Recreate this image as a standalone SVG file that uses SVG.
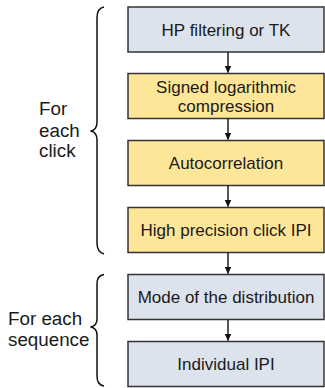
<svg xmlns="http://www.w3.org/2000/svg" width="325" height="388" viewBox="0 0 325 388">
<style>
.blue{fill:#dce3ec;stroke:#333;stroke-width:1.5}
.yel{fill:#fee699;stroke:#333;stroke-width:1.5}
.t{font-family:"Liberation Sans",Arial,sans-serif;font-size:17px;fill:#1a1a1a;text-anchor:middle}
.lab{font-family:"Liberation Sans",Arial,sans-serif;font-size:18.8px;fill:#1a1a1a}
.brace{fill:none;stroke:#111;stroke-width:1.5}
.conn{stroke:#111;stroke-width:1.4;fill:none}
</style>
<defs>
<marker id="ah" markerWidth="8" markerHeight="8" refX="7" refY="4" orient="auto" markerUnits="userSpaceOnUse">
<path d="M0,0.5 L7.5,4 L0,7.5 Z" fill="#111"/>
</marker>
</defs>
<g id="n1"><rect class="blue" x="128" y="7" width="196" height="45"/><text class="t" x="226" y="35.5">HP filtering or TK</text></g>
<g id="n2"><rect class="yel" x="128" y="73.5" width="196" height="45"/><text class="t" x="226" y="93">Signed logarithmic</text><text class="t" x="226" y="111.5">compression</text></g>
<g id="n3"><rect class="yel" x="128" y="140.5" width="196" height="45"/><text class="t" x="226" y="169">Autocorrelation</text></g>
<g id="n4"><rect class="yel" x="128" y="207.5" width="196" height="45"/><text class="t" x="226" y="236">High precision click IPI</text></g>
<g id="n5"><rect class="blue" x="128" y="274.5" width="196" height="45"/><text class="t" x="226" y="303">Mode of the distribution</text></g>
<g id="n6"><rect class="blue" x="128" y="341.5" width="196" height="45"/><text class="t" x="226" y="370">Individual IPI</text></g>
<g id="connectors">
<line class="conn" x1="228" y1="52" x2="228" y2="72.5" marker-end="url(#ah)"/>
<line class="conn" x1="228" y1="118.5" x2="228" y2="139.5" marker-end="url(#ah)"/>
<line class="conn" x1="228" y1="185.5" x2="228" y2="206.5" marker-end="url(#ah)"/>
<line class="conn" x1="228" y1="252.5" x2="228" y2="273.5" marker-end="url(#ah)"/>
<line class="conn" x1="228" y1="319.5" x2="228" y2="340.5" marker-end="url(#ah)"/>
</g>
<g id="brace1">
<path class="brace" d="M104,7 Q97,8 97,18 L97,122 Q97,130 90.5,131 Q97,132 97,140 L97,243 Q97,252 104,254"/>
<text class="lab" x="39" y="115">For</text>
<text class="lab" x="39" y="136.5">each</text>
<text class="lab" x="39" y="157">click</text>
</g>
<g id="brace2">
<path class="brace" d="M104,274.5 Q97,275.5 97,284 L97,319 Q97,326 90.5,327 Q97,328 97,335 L97,376 Q97,385 104,386"/>
<text class="lab" x="8" y="325">For each</text>
<text class="lab" x="8" y="346">sequence</text>
</g>
</svg>
